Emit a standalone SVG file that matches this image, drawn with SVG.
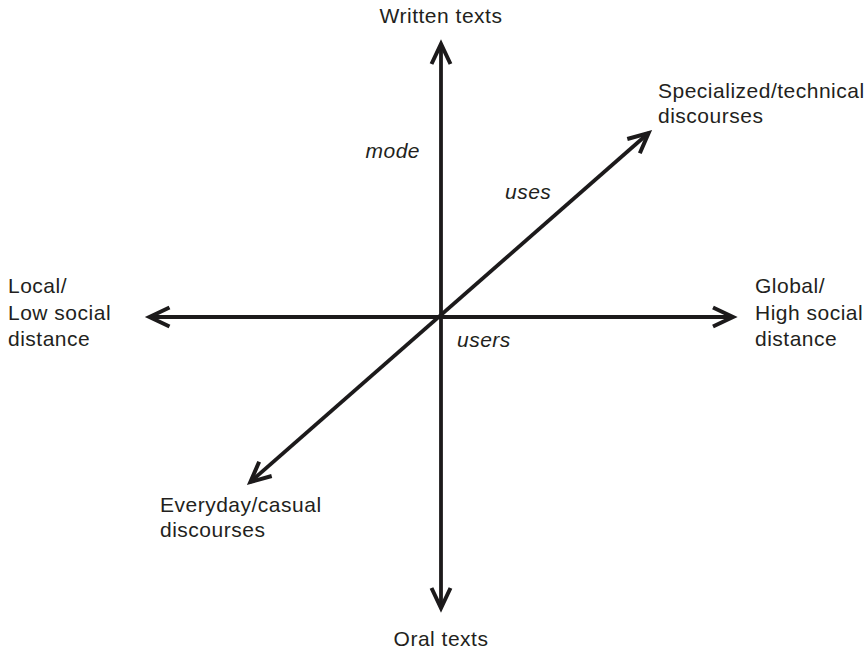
<svg xmlns="http://www.w3.org/2000/svg" width="868" height="652" viewBox="0 0 868 652">
  <style>
    .lbl { font-family: "Liberation Sans", Arial, sans-serif; font-size: 21px; letter-spacing: 0.5px; fill: #231f20; }
    .it { font-style: italic; }
    .axis { stroke: #1c1a1b; stroke-width: 3.8; fill: none; marker-start: url(#chev); marker-end: url(#chev); }
  </style>
  <defs>
    <marker id="chev" markerUnits="userSpaceOnUse" orient="auto-start-reverse" viewBox="-26 -14 30 28" refX="0" refY="0" markerWidth="30" markerHeight="28" overflow="visible">
      <path d="M -20 -9.5 L 0 0 L -20 9.5" fill="none" stroke="#1c1a1b" stroke-width="4" stroke-linejoin="miter"/>
    </marker>
  </defs>
  <rect width="868" height="652" fill="#ffffff"/>
  <g id="connectors">
    <line class="axis" x1="441" y1="44" x2="441" y2="608"/>
    <line class="axis" x1="149.5" y1="317" x2="733" y2="317"/>
    <line class="axis" x1="250.4" y1="482" x2="648.6" y2="133"/>
  </g>
  <g id="written">
    <text class="lbl" x="441" y="23" text-anchor="middle">Written texts</text>
  </g>
  <g id="oral">
    <text class="lbl" x="441" y="646" text-anchor="middle">Oral texts</text>
  </g>
  <g id="specialized">
    <text class="lbl" x="658" y="98">Specialized/technical</text>
    <text class="lbl" x="658" y="123">discourses</text>
  </g>
  <g id="everyday">
    <text class="lbl" x="160" y="512">Everyday/casual</text>
    <text class="lbl" x="160" y="537">discourses</text>
  </g>
  <g id="local">
    <text class="lbl" x="8" y="293">Local/</text>
    <text class="lbl" x="8" y="319.5">Low social</text>
    <text class="lbl" x="8" y="346">distance</text>
  </g>
  <g id="global">
    <text class="lbl" x="755" y="293">Global/</text>
    <text class="lbl" x="755" y="319.5">High social</text>
    <text class="lbl" x="755" y="346">distance</text>
  </g>
  <g id="axis-labels">
    <text class="lbl it" x="420" y="158" text-anchor="end">mode</text>
    <text class="lbl it" x="505" y="199">uses</text>
    <text class="lbl it" x="457" y="347">users</text>
  </g>
</svg>
